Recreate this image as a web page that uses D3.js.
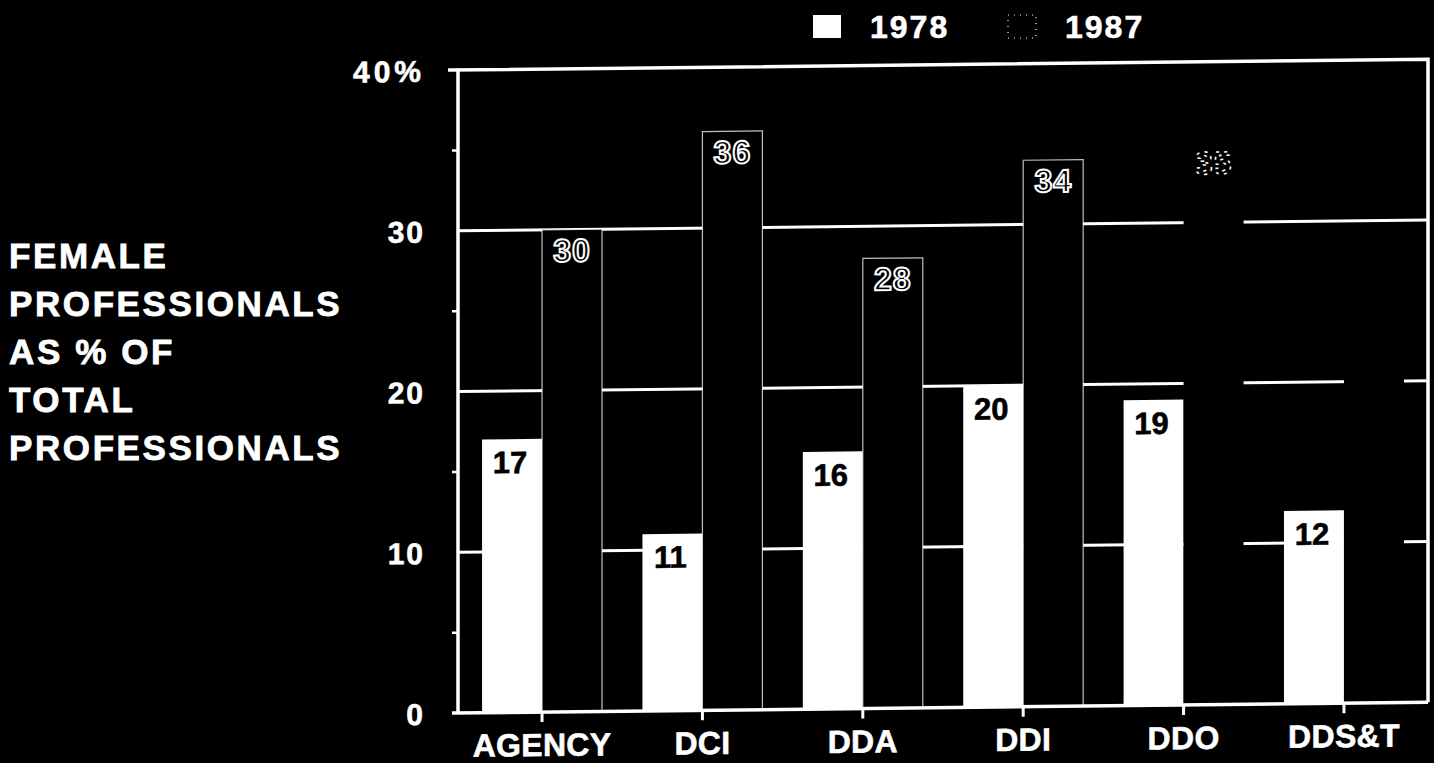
<!DOCTYPE html>
<html>
<head>
<meta charset="utf-8">
<script src="https://cdn.jsdelivr.net/npm/d3@7"></script>
<style>
  html, body { margin: 0; padding: 0; background: #000; }
  svg { display: block; }
  text { font-family: "Liberation Sans", Arial, Helvetica, sans-serif; font-weight: bold; }
</style>
</head>
<body>
<svg id="chart" width="1434" height="763"></svg>
<script>
// Data: share of female professionals in each directorate
const categories = ["AGENCY", "DCI", "DDA", "DDI", "DDO", "DDS&T"];
const years = ["1978", "1987"];
const values1978 = [17, 11, 16, 20, 19, 12];
const values1987 = [30, 36, 28, 34, 35, 22];
// which 1987 labels print clearly, faintly, or not at all
const labelStyle1987 = ["clear", "clear", "clear", "clear", "faint", "none"];
const yTicks = [0, 10, 20, 30, 40];
const yMinorTicks = [5, 15, 25, 35];
const titleLines = ["FEMALE", "PROFESSIONALS", "AS % OF", "TOTAL", "PROFESSIONALS"];

const W = 1434, H = 763;
const plot = { left: 458, right: 1428, top: 70, bottom: 713 };

const svg = d3.select("#chart");
svg.append("rect").attr("width", W).attr("height", H).attr("fill", "#000");

// the whole chart sits on a slight tilt, pivoting on the y axis
const tilt = 0.63;
const k = Math.tan(tilt * Math.PI / 180);
const g = svg.append("g")
  .attr("transform", `translate(0,${(k * plot.left).toFixed(2)}) skewY(${-tilt})`);

const y = d3.scaleLinear().domain([0, 40]).range([plot.bottom, plot.top]);
const x = d3.scaleBand().domain(categories)
  .range([plot.left, plot.right])
  .paddingInner(0.252).paddingOuter(0.15);
const xs = d3.scaleBand().domain(years).range([0, x.bandwidth()]);

// gridlines at 10, 20, 30 (behind the bars)
g.append("g").selectAll("line")
  .data(yTicks.filter(d => d > 0 && d < 40))
  .join("line")
  .attr("x1", plot.left).attr("x2", plot.right)
  .attr("y1", d => y(d)).attr("y2", d => y(d))
  .attr("stroke", "#fff").attr("stroke-width", 3);

// 1978 bars: solid white
const groups = g.append("g").selectAll("g")
  .data(categories.map((c, i) => ({ c, i })))
  .join("g")
  .attr("transform", d => `translate(${x(d.c)},0)`);

groups.append("rect")
  .attr("x", xs("1978"))
  .attr("y", d => y(values1978[d.i]))
  .attr("width", xs.bandwidth())
  .attr("height", d => y(0) - y(values1978[d.i]))
  .attr("fill", "#fff");

groups.append("text")
  .attr("x", xs("1978") + xs.bandwidth() / 2 - 2)
  .attr("y", d => y(values1978[d.i]) + 34)
  .attr("text-anchor", "middle")
  .attr("font-size", 31)
  .attr("fill", "#000")
  .attr("stroke", "#000").attr("stroke-width", 0.6)
  .text(d => values1978[d.i]);

// 1987 bars: black with a thin white outline
groups.append("rect")
  .attr("x", xs("1987"))
  .attr("y", d => y(values1987[d.i]))
  .attr("width", xs.bandwidth())
  .attr("height", d => y(0) - y(values1987[d.i]))
  .attr("fill", "#000")
  .attr("stroke", d => labelStyle1987[d.i] === "clear" ? "#fff" : "none")
  .attr("stroke-width", 1.2)
  .attr("stroke-opacity", 0.75);

groups.filter(d => labelStyle1987[d.i] !== "none").append("text")
  .attr("x", xs("1987") + xs.bandwidth() / 2)
  .attr("y", d => y(values1987[d.i]) + 32)
  .attr("text-anchor", "middle")
  .attr("font-size", 32)
  .attr("fill", "#000")
  .attr("stroke", "#fff")
  .attr("stroke-width", d => labelStyle1987[d.i] === "faint" ? 1.5 : 2)
  .attr("stroke-dasharray", d => labelStyle1987[d.i] === "faint" ? "3 5" : null)
  .attr("letter-spacing", 1)
  .text(d => values1987[d.i]);

// frame: top edge at 40% and right edge
g.append("path")
  .attr("d", `M${plot.left - 10},${plot.top}H${plot.right}V${plot.bottom}`)
  .attr("fill", "none").attr("stroke", "#fff").attr("stroke-width", 3.5);

// y axis
const yAxis = d3.axisLeft(y)
  .tickValues(yTicks)
  .tickSize(0)
  .tickPadding(33)
  .tickFormat(d => d === 40 ? "40%" : String(d));
const ya = g.append("g").attr("transform", `translate(${plot.left},0)`).call(yAxis);
ya.select(".domain").remove();
ya.selectAll("text")
  .attr("fill", "#fff").attr("font-size", 30).attr("font-family", null)
  .attr("stroke", "#fff").attr("stroke-width", 0.6)
  .attr("letter-spacing", d => d === 40 ? 4 : 2).attr("dy", "0.36em");
g.append("line")
  .attr("x1", plot.left).attr("x2", plot.left)
  .attr("y1", plot.top).attr("y2", plot.bottom)
  .attr("stroke", "#fff").attr("stroke-width", 3.5);
g.append("g").selectAll("line").data(yMinorTicks).join("line")
  .attr("x1", plot.left - 6).attr("x2", plot.left)
  .attr("y1", d => y(d)).attr("y2", d => y(d))
  .attr("stroke", "#fff").attr("stroke-width", 2.5);

// x axis: baseline, ticks between the paired bars, category names
const xAxis = d3.axisBottom(x).tickSize(10).tickSizeOuter(0).tickPadding(10);
const xa = g.append("g").attr("transform", `translate(0,${plot.bottom})`).call(xAxis);
xa.select(".domain").remove();
xa.selectAll(".tick line").attr("stroke", "#fff").attr("stroke-width", 3);
xa.selectAll("text")
  .attr("fill", "#fff").attr("font-size", 32).attr("font-family", null)
  .attr("stroke", "#fff").attr("stroke-width", 0.6)
  .attr("letter-spacing", 0.3).attr("y", 44).attr("dy", null);
g.append("line")
  .attr("x1", plot.left - 6).attr("x2", plot.right)
  .attr("y1", plot.bottom).attr("y2", plot.bottom)
  .attr("stroke", "#fff").attr("stroke-width", 3.5);

// legend
const legend = svg.append("g");
const legendItems = [
  { year: "1978", sx: 813, tx: 870 },
  { year: "1987", sx: 1008, tx: 1065 }
];
legend.selectAll("rect").data(legendItems).join("rect")
  .attr("x", d => d.sx).attr("y", 15).attr("width", 28).attr("height", 23)
  .attr("fill", d => d.year === "1978" ? "#fff" : "#000")
  .attr("stroke", d => d.year === "1978" ? "none" : "#fff")
  .attr("stroke-width", 1.2)
  .attr("stroke-dasharray", d => d.year === "1978" ? null : "1 5");
legend.selectAll("text").data(legendItems).join("text")
  .attr("x", d => d.tx).attr("y", 38)
  .attr("font-size", 32).attr("fill", "#fff").attr("letter-spacing", 2)
  .attr("stroke", "#fff").attr("stroke-width", 0.6)
  .text(d => d.year);

// y axis title
svg.append("g").selectAll("text").data(titleLines).join("text")
  .attr("x", 9)
  .attr("y", (d, i) => 268 + i * 48)
  .attr("font-size", 35).attr("fill", "#fff").attr("letter-spacing", 2.6)
  .attr("stroke", "#fff").attr("stroke-width", 0.8)
  .text(d => d);
</script>
</body>
</html>
